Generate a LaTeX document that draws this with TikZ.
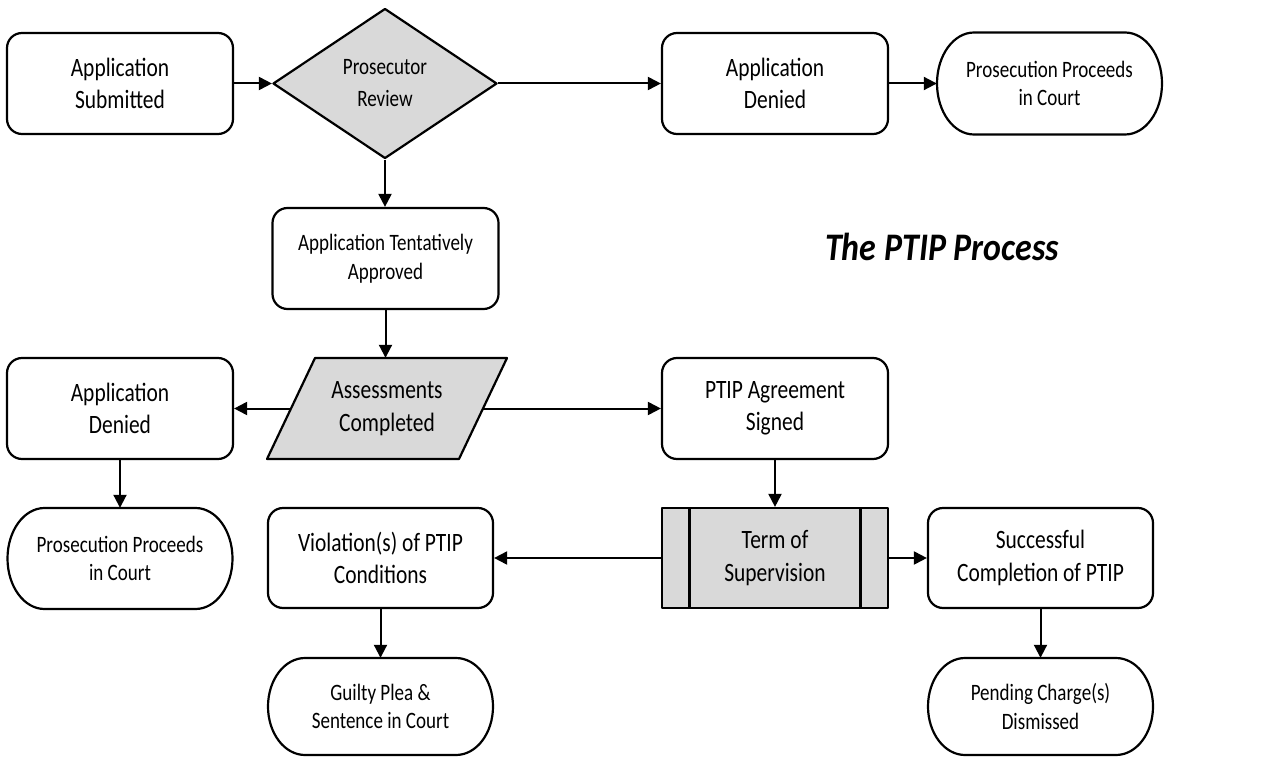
\documentclass[tikz,border=0pt]{standalone}
\usepackage{fontspec}
\setmainfont[FakeStretch=0.81]{Carlito}
\newfontfamily\titlefnt[FakeStretch=0.87]{Carlito}
\usetikzlibrary{shapes.geometric,arrows.meta,calc}
\definecolor{shade}{HTML}{D9D9D9}
\newcommand\bigfnt{\fontsize{26.5}{32.5}\selectfont}
\newcommand\smallfnt{\fontsize{23.5}{28.7}\selectfont}
\newcommand\stadiumat[2]{\draw[shapeline] ($(#1)+(-75.5,-#2)$) -- ($(#1)+(75.5,-#2)$) arc[start angle=90,end angle=-90,x radius=37pt,y radius=#2pt] -- ($(#1)+(-75.5,#2)$) arc[start angle=270,end angle=90,x radius=37pt,y radius=#2pt] -- cycle;}
\tikzset{
  shapeline/.style={line width=2.2pt, line join=round},
  box/.style={draw, shapeline, rounded corners=15pt, minimum width=226pt, minimum height=101pt, inner sep=0pt, align=center, font=\bigfnt},
  smallbox/.style={box, font=\smallfnt},
  stadtext/.style={minimum width=225pt, minimum height=100pt, inner sep=0pt, align=center, font=\smallfnt},
  decision/.style={diamond, draw, shapeline, fill=shade, minimum width=224pt, minimum height=150pt, inner sep=0pt, align=center, font=\fontsize{23.5}{32}\selectfont},
  process/.style={draw, shapeline, fill=shade, minimum width=226pt, minimum height=100pt, inner sep=0pt, align=center, font=\bigfnt},
  conn/.style={line width=2pt, -{Triangle[length=13pt,width=13pt]}}
}
\begin{document}
\begin{tikzpicture}[x=1pt,y=-1pt]
\useasboundingbox (0,0) rectangle (1276,757);
% top row
\node[box] (sub) at (120,83.5) {Application\\Submitted};
\node[decision] (rev) at (385,83.5) {Prosecutor\\Review};
\node[box] (den1) at (775,83.5) {Application\\Denied};
\coordinate (pro1c) at (1049.5,83.5);
\stadiumat{pro1c}{51}
\node[stadtext, minimum height=102pt] (pro1) at (pro1c) {Prosecution Proceeds\\in Court};
% second row
\node[smallbox] (tent) at (385.5,258.5) {Application Tentatively\\Approved};
\node[font=\titlefnt\bfseries\itshape\fontsize{39}{47}\selectfont] (title) at (942,247) {The PTIP Process};
% third row
\coordinate (assc) at (387,408.5);
\draw[shapeline, fill=shade] ($(assc)+(-72,-50.5)$) -- ($(assc)+(120,-50.5)$) -- ($(assc)+(72,50.5)$) -- ($(assc)+(-120,50.5)$) -- cycle;
\node[minimum width=192pt, minimum height=101pt, inner sep=0pt, align=center, font=\bigfnt] (ass) at (assc) {Assessments\\Completed};
\node[box] (den2) at (120,408.5) {Application\\Denied};
\node[box] (agr) at (775,408.5) {PTIP Agreement\\Signed};
% fourth row
\coordinate (pro2c) at (120,558.5);
\stadiumat{pro2c}{50.5}
\node[stadtext, minimum height=101pt] (pro2) at (pro2c) {Prosecution Proceeds\\in Court};
\node[box, minimum width=225pt, minimum height=100pt] (vio) at (380.5,558) {Violation(s) of PTIP\\Conditions};
\node[process] (term) at (775,558) {Term of\\Supervision};
\draw[shapeline] ($(term.center)+(-85.5,-50)$) -- ($(term.center)+(-85.5,50)$);
\draw[shapeline] ($(term.center)+(85.5,-50)$) -- ($(term.center)+(85.5,50)$);
\node[box, minimum width=225pt, minimum height=100pt] (suc) at (1040.5,558) {Successful\\Completion of PTIP};
% bottom row
\coordinate (guic) at (380.5,706.5);
\stadiumat{guic}{48.5}
\node[stadtext, minimum height=97pt] (gui) at (guic) {Guilty Plea \&\\Sentence in Court};
\coordinate (penc) at (1040.5,706.5);
\stadiumat{penc}{48.5}
\node[stadtext, minimum height=97pt] (pen) at (penc) {Pending Charge(s)\\Dismissed};
% connectors
\draw[conn] (sub.east) -- (rev.west);
\draw[conn] (rev.east) -- (den1.west);
\draw[conn] (den1.east) -- (pro1.west);
\draw[conn] (rev.south) -- (rev.south |- tent.north);
\draw[conn] (tent.south) -- (tent.south |- ass.north);
\draw[conn] (ass.west) -- (den2.east);
\draw[conn] (ass.east) -- (agr.west);
\draw[conn] (den2.south) -- (pro2.north);
\draw[conn] (agr.south) -- (term.north);
\draw[conn] (term.west) -- (vio.east);
\draw[conn] (term.east) -- (suc.west);
\draw[conn] (vio.south) -- (gui.north);
\draw[conn] (suc.south) -- (pen.north);
\end{tikzpicture}
\end{document}
